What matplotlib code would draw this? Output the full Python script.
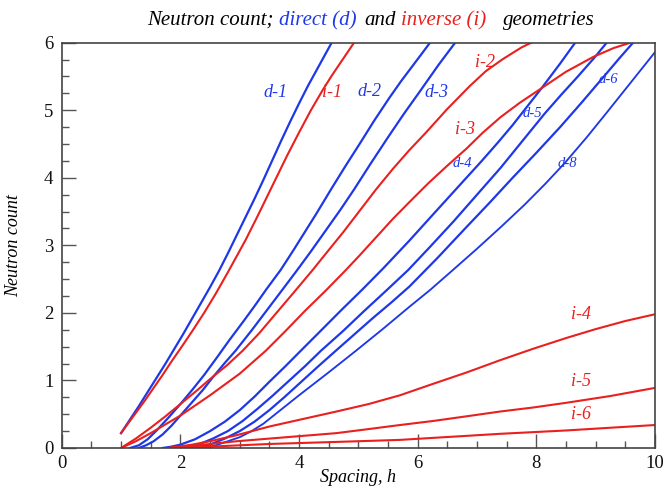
import matplotlib
matplotlib.use("Agg")
import matplotlib.pyplot as plt
from matplotlib.ticker import MultipleLocator

plt.rcParams['font.family'] = ['Liberation Serif', 'DejaVu Serif']

BLUE = '#1e38e8'
RED = '#e8201e'

# direct geometry curves
d1_x = [1.0, 1.15, 1.3, 1.45, 1.6, 1.75, 1.9, 2.05, 2.2, 2.35, 2.5, 2.65, 2.8,
        2.95, 3.1, 3.25, 3.4, 3.55, 3.7, 3.85, 4.0, 4.15, 4.3, 4.45, 4.6]
d1_y = [0.22, 0.42, 0.62, 0.83, 1.04, 1.25, 1.47, 1.69, 1.92, 2.15, 2.38, 2.62, 2.88,
        3.15, 3.42, 3.69, 3.97, 4.26, 4.55, 4.83, 5.1, 5.36, 5.6, 5.84, 6.08]
d2_x = [1.15, 1.3, 1.45, 1.6, 1.8, 2.0, 2.2, 2.4, 2.6, 2.82, 3.05, 3.25, 3.45,
        3.69, 3.9, 4.1, 4.3, 4.54, 4.78, 5.02, 5.27, 5.52, 5.72, 5.9, 6.08, 6.25]
d2_y = [0.0, 0.04, 0.13, 0.26, 0.45, 0.65, 0.86, 1.08, 1.32, 1.59, 1.86, 2.1, 2.35,
        2.635, 2.92, 3.2, 3.48, 3.83, 4.17, 4.5, 4.85, 5.18, 5.43, 5.64, 5.85, 6.05]
d3_x = [1.3, 1.42, 1.55, 1.7, 1.85, 2.0, 2.2, 2.38, 2.55, 2.75, 2.93, 3.2, 3.45,
        3.7, 3.97, 4.2, 4.45, 4.7, 4.93, 5.2, 5.5, 5.77, 6.03, 6.35, 6.7]
d3_y = [0.0, 0.04, 0.1, 0.2, 0.33, 0.48, 0.68, 0.86, 1.05, 1.26, 1.44, 1.74, 2.03,
        2.32, 2.635, 2.91, 3.22, 3.53, 3.83, 4.2, 4.6, 4.95, 5.27, 5.67, 6.08]
d4_x = [1.7, 1.85, 2.0, 2.25, 2.5, 2.75, 3.0, 3.25, 3.5, 3.77, 4.03, 4.36, 4.7,
        5.06, 5.42, 5.86, 6.2, 6.5, 6.8, 7.07, 7.35, 7.6, 7.85, 8.1, 8.4, 8.72]
d4_y = [0.0, 0.02, 0.05, 0.13, 0.25, 0.39, 0.56, 0.76, 0.98, 1.21, 1.44, 1.73, 2.03,
        2.34, 2.66, 3.07, 3.4, 3.69, 3.98, 4.24, 4.52, 4.78, 5.06, 5.34, 5.69, 6.08]
d5_x = [1.9, 2.1, 2.3, 2.55, 2.8, 3.05, 3.3, 3.55, 3.8, 4.1, 4.37, 4.74, 5.1,
        5.47, 5.84, 6.2, 6.6, 7.0, 7.4, 7.77, 8.14, 8.42, 8.7, 8.98, 9.26]
d5_y = [0.0, 0.02, 0.05, 0.14, 0.25, 0.4, 0.58, 0.77, 0.97, 1.21, 1.44, 1.73, 2.03,
        2.33, 2.635, 2.97, 3.35, 3.75, 4.15, 4.55, 4.95, 5.23, 5.5, 5.78, 6.08]
d6_x = [2.1, 2.3, 2.5, 2.75, 3.0, 3.25, 3.5, 3.75, 4.0, 4.3, 4.62, 4.93, 5.24,
        5.55, 5.86, 6.33, 6.8, 7.2, 7.6, 8.0, 8.4, 8.75, 9.1, 9.4, 9.71]
d6_y = [0.0, 0.02, 0.05, 0.14, 0.25, 0.39, 0.56, 0.75, 0.95, 1.19, 1.44, 1.68, 1.92,
        2.15, 2.39, 2.81, 3.25, 3.62, 4.0, 4.37, 4.75, 5.1, 5.46, 5.77, 6.08]
d8_x = [2.4, 2.6, 2.8, 3.0, 3.2, 3.4, 3.6, 3.8, 4.0, 4.25, 4.5, 4.73, 4.96,
        5.41, 5.86, 6.21, 6.6, 7.0, 7.4, 7.8, 8.15, 8.48, 8.85, 9.2, 9.6, 10.0]
d8_y = [0.0, 0.04, 0.1, 0.16, 0.25, 0.36, 0.5, 0.64, 0.78, 0.95, 1.12, 1.28, 1.44,
        1.76, 2.09, 2.34, 2.64, 2.95, 3.27, 3.6, 3.91, 4.22, 4.6, 4.98, 5.42, 5.86]

# inverse geometry curves
i1_x = [1.0, 1.2, 1.4, 1.55, 1.7, 1.85, 2.0, 2.2, 2.4, 2.6, 2.8, 2.95, 3.1,
        3.3, 3.45, 3.6, 3.8, 4.0, 4.2, 4.4, 4.55, 4.75, 4.95]
i1_y = [0.22, 0.46, 0.7, 0.89, 1.08, 1.28, 1.47, 1.73, 2.0, 2.29, 2.6, 2.84, 3.08,
        3.43, 3.7, 3.97, 4.33, 4.67, 5.0, 5.3, 5.51, 5.77, 6.03]
i2_x = [1.0, 1.25, 1.5, 1.75, 2.0, 2.25, 2.5, 2.78, 3.05, 3.33, 3.6, 3.9, 4.23,
        4.5, 4.75, 5.02, 5.3, 5.58, 5.86, 6.14, 6.5, 6.88, 7.15, 7.44, 7.75, 8.1]
i2_y = [0.0, 0.14, 0.3, 0.47, 0.65, 0.83, 1.02, 1.22, 1.44, 1.7, 1.98, 2.29, 2.635,
        2.93, 3.2, 3.51, 3.83, 4.13, 4.41, 4.67, 5.02, 5.36, 5.58, 5.76, 5.93, 6.08]
i3_x = [1.0, 1.25, 1.5, 1.75, 2.0, 2.25, 2.5, 2.75, 3.0, 3.22, 3.44, 3.77, 4.1,
        4.45, 4.79, 5.02, 5.3, 5.58, 5.86, 6.18, 6.5, 6.82, 7.1, 7.4, 7.72, 8.06,
        8.5, 8.96, 9.3, 9.69, 10.0]
i3_y = [0.0, 0.1, 0.22, 0.35, 0.48, 0.63, 0.78, 0.94, 1.1, 1.27, 1.44, 1.73, 2.03,
        2.33, 2.635, 2.85, 3.12, 3.39, 3.64, 3.92, 4.18, 4.43, 4.67, 4.9, 5.11, 5.31,
        5.57, 5.79, 5.92, 6.03, 6.11]
i4_x = [1.8, 2.2, 2.5, 2.95, 3.51, 4.07, 4.63, 5.17, 5.7, 6.26, 6.83, 7.39, 7.95,
        8.51, 9.0, 9.5, 10.0]
i4_y = [0.0, 0.05, 0.1, 0.19, 0.32, 0.43, 0.54, 0.65, 0.78, 0.95, 1.12, 1.3, 1.47,
        1.63, 1.76, 1.88, 1.98]
i5_x = [1.8, 2.4, 2.95, 3.51, 4.07, 4.63, 5.17, 5.7, 6.26, 6.83, 7.39, 7.95, 8.51,
        9.25, 10.0]
i5_y = [0.0, 0.05, 0.1, 0.14, 0.18, 0.22, 0.28, 0.34, 0.4, 0.47, 0.54, 0.6, 0.67,
        0.77, 0.89]
i6_x = [1.8, 2.5, 3.0, 3.51, 4.07, 4.63, 5.17, 5.7, 6.26, 6.83, 7.39, 7.95, 8.51,
        9.25, 10.0]
i6_y = [0.0, 0.02, 0.04, 0.06, 0.075, 0.09, 0.105, 0.12, 0.15, 0.18, 0.21, 0.235,
        0.26, 0.3, 0.34]

x_ticks = [0, 2, 4, 6, 8, 10]
y_ticks = [0, 1, 2, 3, 4, 5, 6]

fig = plt.figure(figsize=(6.66, 4.91), dpi=100)
ax = fig.add_axes([61.7 / 666, 43 / 491, 593.3 / 666, 405.3 / 491])

for xs, ys in [(d1_x, d1_y), (d2_x, d2_y), (d3_x, d3_y), (d4_x, d4_y),
               (d5_x, d5_y), (d6_x, d6_y)]:
    ax.plot(xs, ys, color=BLUE, lw=1.6)
ax.plot(d8_x, d8_y, color=BLUE, lw=1.35)
for xs, ys in [(i1_x, i1_y), (i2_x, i2_y), (i3_x, i3_y), (i4_x, i4_y),
               (i5_x, i5_y), (i6_x, i6_y)]:
    ax.plot(xs, ys, color=RED, lw=1.5)

# curve labels
big = dict(style='italic', fontsize=13, ha='center', va='center')
small = dict(style='italic', fontsize=10.5, ha='center', va='center')
ax.text(3.61, 5.26, 'd-1', color=BLUE, **big)
ax.text(4.56, 5.26, 'i-1', color=RED, **big)
ax.text(5.19, 5.28, 'd-2', color=BLUE, **big)
ax.text(6.32, 5.26, 'd-3', color=BLUE, **big)
ax.text(7.13, 5.70, 'i-2', color=RED, **big)
ax.text(6.80, 4.71, 'i-3', color=RED, **big)
ax.text(8.75, 1.97, 'i-4', color=RED, **big)
ax.text(8.75, 0.98, 'i-5', color=RED, **big)
ax.text(8.75, 0.50, 'i-6', color=RED, **big)
ax.text(6.76, 4.21, 'd-4', color=BLUE, **small)
ax.text(7.94, 4.95, 'd-5', color=BLUE, **small)
ax.text(9.22, 5.45, 'd-6', color=BLUE, zorder=1, **small)
ax.text(8.53, 4.21, 'd-8', color=BLUE, **small)

ax.set_xlim(0, 10)
ax.set_ylim(0, 6)
ax.set_xticks(x_ticks)
ax.set_yticks(y_ticks)
ax.xaxis.set_minor_locator(MultipleLocator(0.5))
ax.yaxis.set_minor_locator(MultipleLocator(0.25))
ax.tick_params(which='both', direction='in', top=False, right=False,
               color='#555555', labelsize=13.5, labelcolor='#111111')
ax.tick_params(which='major', length=10, width=1.0)
ax.tick_params(which='minor', length=5, width=1.0)
ax.tick_params(axis='x', pad=5)
ax.tick_params(axis='y', pad=6)
for sp in ax.spines.values():
    sp.set_color('#444444')
    sp.set_linewidth(1.2)

ax.set_xlabel('Spacing, h', style='italic', fontsize=13)
ax.xaxis.set_label_coords(0.5, -0.052)
ax.set_ylabel('Neutron count', style='italic', fontsize=13)
ax.yaxis.set_label_coords(-0.067, 0.5)

# multi-coloured title
title_parts = [('Neutron count;', 'black', 147), ('direct (d)', BLUE, 279),
               ('and', 'black', 364), ('inverse (i)', RED, 401),
               ('geometries', 'black', 503)]
for txt, col, px in title_parts:
    fig.text(px / 666, 1 - 25 / 491, txt, color=col, style='italic',
             fontsize=15, ha='left', va='baseline')

fig.savefig('out.png', dpi=100)
